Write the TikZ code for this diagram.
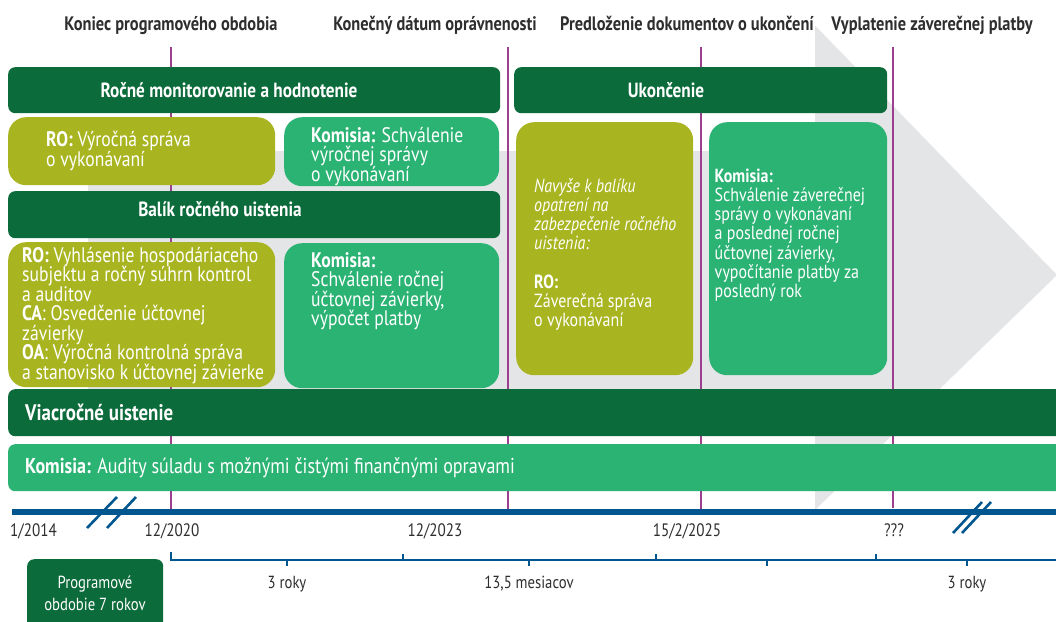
\documentclass[tikz,border=0pt]{standalone}
\usepackage{fontspec}
\setmainfont{PT Sans}[FakeStretch=0.84]
\definecolor{dkgreen}{HTML}{0C6B3A}
\definecolor{olive}{HTML}{A8B521}
\definecolor{ltgreen}{HTML}{2BB374}
\definecolor{bggray}{HTML}{E4E5E7}
\definecolor{purp}{HTML}{9C3F8E}
\definecolor{tlblue}{HTML}{00568F}
\definecolor{txtgray}{HTML}{2E2E2E}
\newcommand{\fsz}[2]{\fontsize{#1}{#2}\selectfont}
\newcommand{\myfh}[1]{\vrule height #1pt width 0pt\relax}
\newcommand{\tightlines}{\lineskiplimit=-100pt\relax\lineskip=0pt\relax}
\begin{document}
\begin{tikzpicture}[x=1pt,y=-1pt,
  bar/.style={fill=dkgreen, draw=none, rounded corners=7pt, anchor=north west, inner sep=0pt},
  olivebox/.style={fill=olive, draw=none, rounded corners=18pt, anchor=north west, inner sep=0pt},
  greenbox/.style={fill=ltgreen, draw=none, rounded corners=18pt, anchor=north west, inner sep=0pt},
  longbar/.style={draw=none, rounded corners=7pt, anchor=north west, inner sep=0pt},
  toplbl/.style={font=\fsz{19.5}{20}\bfseries, text=txtgray, inner sep=0pt, anchor=base},
  bartitle/.style={font=\fsz{20.5}{22}\bfseries, text=white, inner sep=0pt, anchor=base},
  boxtxt/.style={font=\fsz{21}{19.5}\tightlines, text=white, inner sep=0pt, anchor=north west, align=left},
  smalltxt/.style={font=\fsz{19}{19.2}\tightlines, text=white, inner sep=0pt, anchor=north west, align=left},
  datelbl/.style={font=\fsz{18}{20}, text=txtgray, inner sep=0pt, anchor=base},
  durlbl/.style={font=\fsz{17.5}{20}, text=txtgray, inner sep=0pt, anchor=base},
  purpline/.style={draw=purp, line width=2.2pt},
  timeline/.style={draw=tlblue, line width=5.5pt},
  brk/.style={draw=tlblue, line width=2.6pt},
  brack/.style={draw=tlblue, line width=1.3pt}
]
\useasboundingbox (0,0) rectangle (1056,621);
\fill[white] (0,0) rectangle (1056,621);

% gray arrow background
\fill[bggray] (88,151) rectangle (815,389);
\fill[bggray] (815,25.5) -- (1057,275) -- (815,510) -- cycle;

% purple milestone lines
\coordinate (p1t) at (171,47); \coordinate (p1b) at (171,510);
\coordinate (p2t) at (508,47); \coordinate (p2b) at (508,510);
\coordinate (p3t) at (701,47); \coordinate (p3b) at (701,510);
\coordinate (p4t) at (893,47); \coordinate (p4b) at (893,508);
\draw[purpline] (p1t) -- (p1b);
\draw[purpline] (p2t) -- (p2b);
\draw[purpline] (p3t) -- (p3b);
\draw[purpline] (p4t) -- (p4b);

% top labels
\node[toplbl] (l1) at (171,30) {Koniec programového obdobia};
\node[toplbl] (l2) at (435,30) {Konečný dátum oprávnenosti};
\node[toplbl] (l3) at (687,30) {Predloženie dokumentov o ukončení};
\node[toplbl] (l4) at (932,30) {Vyplatenie záverečnej platby};

% header bars
\node[bar, minimum width=492pt, minimum height=46pt] (rocne) at (8,67) {};
\node[bartitle] (rocnet) at (229,97) {Ročné monitorovanie a hodnotenie};
\node[bar, minimum width=373pt, minimum height=46pt] (ukon) at (514,67) {};
\node[bartitle] (ukont) at (666,97) {Ukončenie};
\node[bar, minimum width=492pt, minimum height=47pt] (balik) at (8,191) {};
\node[bartitle] (balikt) at (220,216) {Balík ročného uistenia};

% boxes
\node[olivebox, minimum width=267pt, minimum height=68pt] (ro1) at (8,117) {};
\node[boxtxt] (ro1t) at (46,128.5) {\myfh{18}\textbf{RO:} Výročná správa\\o vykonávaní};
\node[greenbox, minimum width=215pt, minimum height=69pt] (kom1) at (284,117) {};
\node[boxtxt] (kom1t) at (311,124) {\myfh{18}\textbf{Komisia:} Schválenie\\výročnej správy\\o vykonávaní};

\node[olivebox, minimum width=267pt, minimum height=145pt] (ro2) at (8,242) {};
\node[boxtxt] (ro2t) at (22,244) {\myfh{18}\textbf{RO:} Vyhlásenie hospodáriaceho\\subjektu a ročný súhrn kontrol\\a auditov\\\textbf{CA}: Osvedčenie účtovnej\\závierky\\\textbf{OA}: Výročná kontrolná správa\\a stanovisko k účtovnej závierke};
\node[greenbox, minimum width=215pt, minimum height=145pt] (kom2) at (284,243) {};
\node[boxtxt] (kom2t) at (311,249) {\myfh{18}\textbf{Komisia:}\\Schválenie ročnej\\účtovnej závierky,\\výpočet platby};

\node[olivebox, minimum width=177pt, minimum height=253pt] (ro3) at (516,122) {};
\node[smalltxt] (ro3t) at (534,176) {\myfh{16}\itshape Navyše k balíku\\\itshape opatrení na\\\itshape zabezpečenie ročného\\\itshape uistenia:\\[19.2pt]\textbf{RO:}\\Záverečná správa\\o vykonávaní};
\node[greenbox, minimum width=178pt, minimum height=253pt] (kom3) at (709,122) {};
\node[smalltxt] (kom3t) at (714.5,166) {\myfh{16}\textbf{Komisia:}\\Schválenie záverečnej\\správy o vykonávaní\\a poslednej ročnej\\účtovnej závierky,\\vypočítanie platby za\\posledný rok};

% long bars
\node[longbar, fill=dkgreen, minimum width=1062pt, minimum height=47pt] (viac) at (8,389) {};
\node[font=\fsz{22.5}{24}\bfseries, text=white, inner sep=0pt, anchor=base west] (viact) at (25,420) {Viacročné uistenie};
\node[longbar, fill=ltgreen, minimum width=1062pt, minimum height=47pt] (audit) at (8,444) {};
\node[font=\fsz{21.5}{24}, text=white, inner sep=0pt, anchor=base west] (auditt) at (25,473) {\textbf{Komisia:} Audity súladu s možnými čistými finančnými opravami};

% timeline
\coordinate (tls) at (12,512); \coordinate (tle) at (1066,512);
\draw[timeline] (tls) -- (tle);
\coordinate (b1a) at (87,528); \coordinate (b1b) at (117,497);
\coordinate (b2a) at (107,528); \coordinate (b2b) at (136,497);
\draw[brk] (b1a) -- (b1b);
\draw[brk] (b2a) -- (b2b);
\coordinate (b3a) at (953,533); \coordinate (b3b) at (982,502);
\coordinate (b4a) at (962,533); \coordinate (b4b) at (991,502);
\draw[brk] (b3a) -- (b3b);
\draw[brk] (b4a) -- (b4b);

% date labels
\node[datelbl, anchor=base west] (d1) at (10,536) {1/2014};
\node[datelbl] (d2) at (172,536) {12/2020};
\node[datelbl] (d3) at (435,536) {12/2023};
\node[datelbl] (d4) at (687,536) {15/2/2025};
\node[datelbl] (d5) at (894,536) {???};

% bracket
\coordinate (bs) at (171,552); \coordinate (bc) at (171,560); \coordinate (be) at (1066,560);
\draw[brack] (bs) -- (bc) -- (be);
\foreach \x in {403,656,876} { \draw[brack] (\x,560) -- (\x,554); }
\foreach \x in {287,529,767,967} { \draw[brack] (\x,560) -- (\x,566); }
\node[durlbl] (r1) at (287,588) {3 roky};
\node[durlbl] (r2) at (529,588) {13,5 mesiacov};
\node[durlbl] (r3) at (967,588) {3 roky};

% programme period box
\node[bar, minimum width=136pt, minimum height=72pt] (prog) at (27,559) {};
\node[font=\fsz{17.5}{22}, text=white, inner sep=0pt, align=center, anchor=base] (progt) at (95,610) {Programové\\obdobie 7 rokov};
\end{tikzpicture}
\end{document}
